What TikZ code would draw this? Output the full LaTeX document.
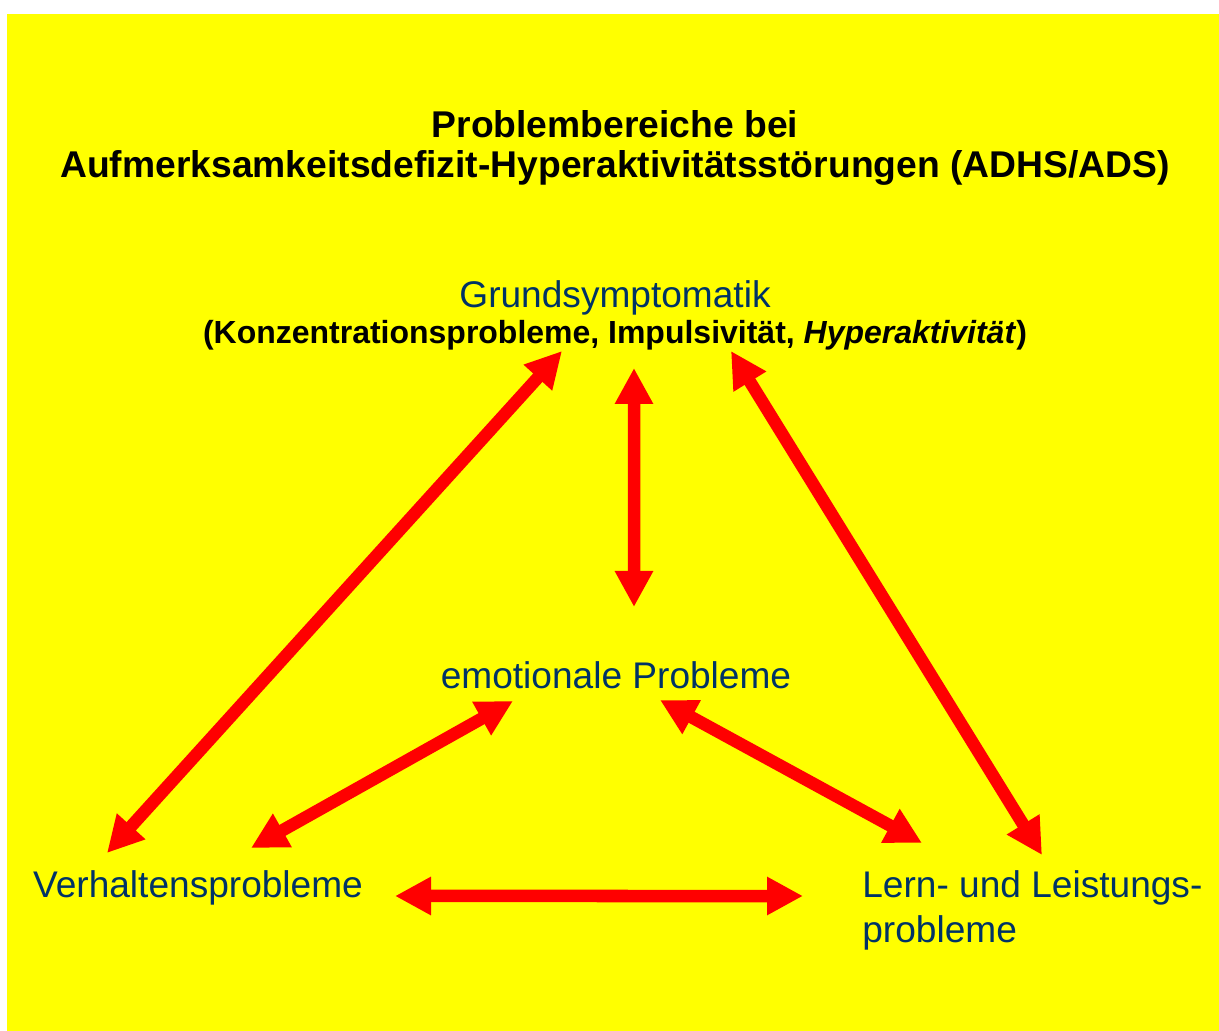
\documentclass[tikz,border=0pt]{standalone}
\usepackage{fontspec}
\setmainfont{Liberation Sans}
\usepackage{xcolor}
\usepackage{tikz}
\usetikzlibrary{arrows.meta, positioning, calc}

\definecolor{bgyellow}{RGB}{255,255,0}
\definecolor{textblue}{RGB}{0,51,102}
\definecolor{linkred}{RGB}{255,0,0}

\begin{document}
\begin{tikzpicture}[
    % Stile
    heading/.style={
        align=center, inner sep=0pt, font=\fontsize{21.2}{22.8}\selectfont\bfseries
    },
    area/.style={
        inner sep=0pt, text=textblue, font=\fontsize{21.1}{25.6}\selectfont
    },
    subline/.style={
        inner sep=0pt, font=\fontsize{18.2}{20}\selectfont\bfseries
    },
    link/.style={
        {Triangle[length=0.72cm, width=0.72cm]}-{Triangle[length=0.72cm, width=0.72cm]},
        draw=linkred, fill=linkred, line width=0.25cm
    }
]

    % --- Hintergrund ---
    \useasboundingbox (0,0) rectangle (24.38,-20.62);
    \fill[bgyellow] (0.14,-0.28) rectangle (24.38,-20.62);

    % --- Titel ---
    \node[heading] (title) at (12.3,-2.96) {Problembereiche bei\\
        Aufmerksamkeitsdefizit-Hyperaktivitätsstörungen (ADHS/ADS)};

    % --- Problembereiche ---
    \node[area] (grund) at (12.3,-5.96) {Grundsymptomatik};
    \node[subline] (sub) at (12.3,-6.7)
        {(Konzentrationsprobleme, Impulsivität, \textit{Hyperaktivität})};
    \node[area] (emo) at (12.32,-13.5) {emotionale Probleme};
    \node[area] (verh) at (3.96,-17.76) {Verhaltensprobleme};
    \node[area, align=left, anchor=west] (lern) at (17.24,-18.21)
        {Lern- und Leistungs-\\probleme};

    % --- Wechselwirkungen ---
    \draw[link] ($(verh)+(-1.82,0.70)$) -- ($(sub)+(-1.06,-0.32)$);
    \draw[link] ($(sub)+(0.38,-0.66)$) -- ($(emo)+(0.36,1.36)$);
    \draw[link] ($(sub)+(2.32,-0.32)$) -- ($(lern.west)+(3.6,1.11)$);
    \draw[link] ($(emo)+(-2.06,-0.52)$) -- ($(verh)+(1.06,0.80)$);
    \draw[link] ($(emo)+(0.88,-0.5)$) -- ($(lern.west)+(1.2,1.35)$);
    \draw[link] ($(verh)+(3.94,-0.16)$) -- ($(lern.west)+(-1.18,0.29)$);

\end{tikzpicture}
\end{document}
